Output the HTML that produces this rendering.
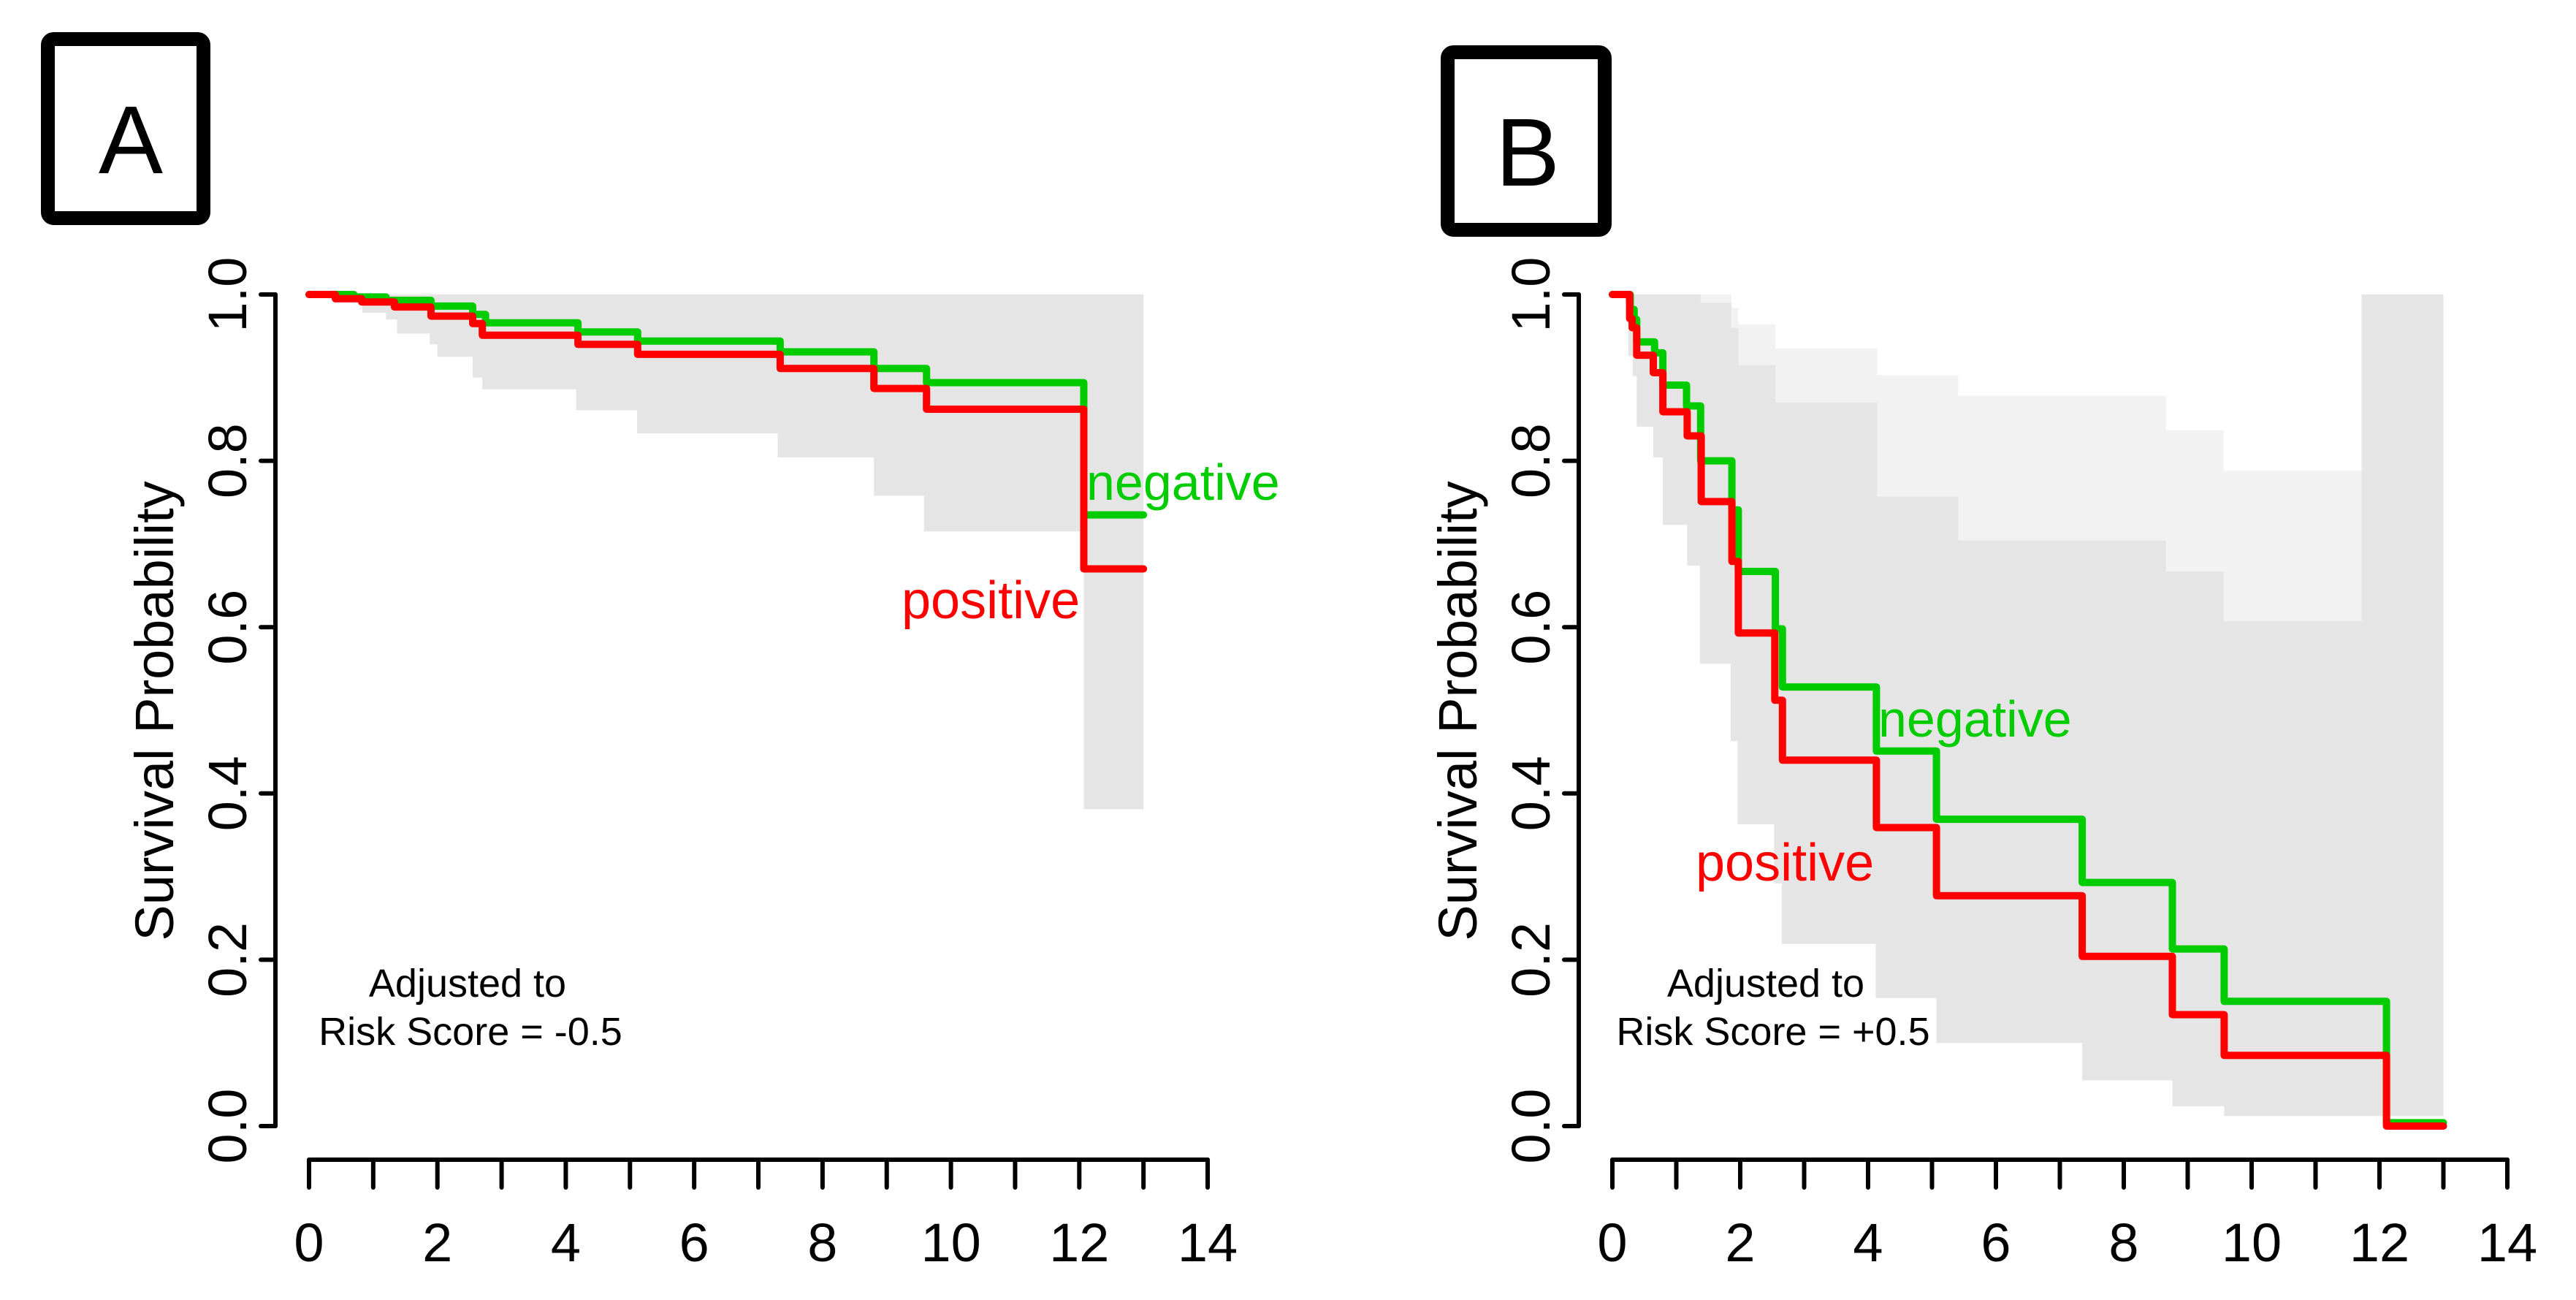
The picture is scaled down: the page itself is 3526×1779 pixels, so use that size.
<!DOCTYPE html>
<html><head><meta charset="utf-8"><style>
html,body{margin:0;padding:0;background:#fff}
svg{display:block}
text{font-family:"Liberation Sans",Arial,sans-serif}
</style></head><body>
<svg id="fig" width="3526" height="1779" viewBox="0 0 3526 1779" xmlns="http://www.w3.org/2000/svg">
<rect width="3526" height="1779" fill="#fff"/>
<g>
<rect x="65.5" y="53.5" width="213" height="245" rx="8" fill="none" stroke="#000" stroke-width="19"/>
<text x="179" y="237" font-size="132" text-anchor="middle">A</text>
</g>
<g>
<rect x="1981.5" y="71.5" width="215" height="243" rx="8" fill="none" stroke="#000" stroke-width="19"/>
<text x="2091" y="254" font-size="132" text-anchor="middle">B</text>
</g>
<g id="panelA"></g>
<g id="panelB"></g>
</svg>
<script>
// Panel A data
const aGreenTimes=[0,0.7,1.2,1.9,2.55,2.75,4.19,5.12,7.34,8.8,9.62,12.07];
const aGreenVals=[1,0.997,0.993,0.986,0.976,0.966,0.955,0.944,0.931,0.911,0.894,0.735];
const aRedTimes=[0,0.41,0.82,1.33,1.9,2.55,2.7,4.19,5.12,7.34,8.8,9.62,12.07];
const aRedVals=[1,0.995,0.991,0.985,0.974,0.965,0.951,0.940,0.928,0.911,0.887,0.862,0.670];
const aBandTopTimes=[0];
const aBandTopVals=[1];
const aBandLowTimes=[0,0.37,0.83,1.2,1.37,1.88,2.0,2.55,2.7,4.16,5.11,7.3,8.8,9.58,12.07];
const aBandLowVals=[1,0.99,0.978,0.97,0.953,0.94,0.925,0.9,0.886,0.861,0.833,0.804,0.758,0.715,0.381];
// Panel B data
const bGreenTimes=[0,0.28,0.34,0.38,0.66,0.79,1.16,1.38,1.87,1.97,2.55,2.66,4.13,5.07,7.35,8.76,9.57,12.11];
const bGreenVals=[1,0.982,0.970,0.943,0.930,0.891,0.866,0.80,0.741,0.667,0.598,0.528,0.451,0.369,0.293,0.213,0.150,0.004];
const bRedTimes=[0,0.27,0.31,0.38,0.64,0.79,1.17,1.39,1.87,1.97,2.54,2.66,4.13,5.07,7.35,8.76,9.57,12.11];
const bRedVals=[1,0.971,0.96,0.927,0.906,0.859,0.830,0.751,0.679,0.593,0.512,0.44,0.359,0.277,0.204,0.134,0.085,0.0];
const bLightTopTimes=[0.2,1.38,1.86,1.97,2.55,4.14,5.41,8.66,9.56,11.72];
const bLightTopVals=[1,1,0.984,0.964,0.935,0.903,0.878,0.837,0.788,1.0];
const bDarkTopTimes=[0.2,1.38,1.86,1.97,2.55,4.14,5.41,8.66,9.56,11.72];
const bDarkTopVals=[1,0.99,0.96,0.915,0.87,0.757,0.704,0.667,0.607,1.0];
const bLowTimes=[0.2,0.25,0.32,0.38,0.64,0.79,1.17,1.37,1.85,1.96,2.53,2.65,4.12,5.07,7.35,8.76,9.57];
const bLowVals=[0.99,0.926,0.902,0.841,0.804,0.723,0.674,0.556,0.463,0.363,0.292,0.219,0.154,0.10,0.055,0.024,0.012];
const endTime=13;
const xTicks=[0,1,2,3,4,5,6,7,8,9,10,11,12,13,14];
const xLabels=[0,2,4,6,8,10,12,14];
const yTicks=[0,0.2,0.4,0.6,0.8,1.0];
const yLabels=["0.0","0.2","0.4","0.6","0.8","1.0"];

const NS="http://www.w3.org/2000/svg";
function mk(parent,tag,attrs){const e=document.createElementNS(NS,tag);for(const k in attrs)e.setAttribute(k,attrs[k]);parent.appendChild(e);return e;}
function stepPts(times,vals,end,sx,sy){const p=[];for(let i=0;i<times.length;i++){const t2=i+1<times.length?times[i+1]:end;p.push([sx(times[i]),sy(vals[i])]);p.push([sx(t2),sy(vals[i])]);}return p;}
function ptsStr(p){return p.map(q=>q[0].toFixed(1)+","+q[1].toFixed(1)).join(" ");}

function panel(g,cfg){
  const sx=t=>cfg.x0+t*cfg.xs;
  const sy=v=>cfg.y0-v*(cfg.y0-cfg.y1);
  cfg.bands.forEach(b=>{
    const top=stepPts(b.tt,b.tv,endTime,sx,sy);
    const low=stepPts(b.lt,b.lv,endTime,sx,sy).reverse();
    const e=mk(g,'polygon',{points:ptsStr(top.concat(low)),fill:b.fill});
    
    
  });
  cfg.curves.forEach(c=>{
    const e=mk(g,'polyline',{points:ptsStr(stepPts(c.t,c.v,endTime,sx,sy)),fill:'none',stroke:c.color,'stroke-width':10,'stroke-linejoin':'round','stroke-linecap':'round'});
    
    
  });
  const ya=mk(g,'g',{});
  
  
  mk(ya,'line',{x1:cfg.ax,y1:sy(1),x2:cfg.ax,y2:sy(0),stroke:'#000','stroke-width':6,'stroke-linecap':'round'});
  yTicks.forEach((v,i)=>{
    mk(ya,'line',{x1:cfg.ax-20,y1:sy(v),x2:cfg.ax,y2:sy(v),stroke:'#000','stroke-width':6,'stroke-linecap':'round'});
    const t=mk(ya,'text',{x:0,y:0,'font-size':74,'text-anchor':'middle',transform:`translate(${cfg.ax-40},${sy(v)}) rotate(-90)`});
    t.textContent=yLabels[i];
    
    
  });
  const yt=mk(g,'text',{x:0,y:0,'font-size':74,'text-anchor':'middle',transform:`translate(${cfg.ax-140},973) rotate(-90)`});
  yt.textContent='Survival Probability';
  
  
  const xa=mk(g,'g',{});
  
  
  mk(xa,'line',{x1:sx(0),y1:1587,x2:sx(14),y2:1587,stroke:'#000','stroke-width':6,'stroke-linecap':'round'});
  xTicks.forEach(v=>{mk(xa,'line',{x1:sx(v),y1:1587,x2:sx(v),y2:1625,stroke:'#000','stroke-width':6,'stroke-linecap':'round'});});
  xLabels.forEach(v=>{
    const t=mk(xa,'text',{x:sx(v),y:1726,'font-size':74,'text-anchor':'middle'});
    t.textContent=String(v);
    
    
  });
  cfg.labels.forEach(l=>{
    const t=mk(g,'text',{x:l.x,y:l.y,'font-size':l.fs,fill:l.fill,'text-anchor':l.anchor||'start'});
    t.textContent=l.text;
    
    
  });
}

panel(document.getElementById('panelA'),{
  x0:423,xs:87.86,y0:1541,y1:403,ax:377,
  bands:[{tt:aBandTopTimes,tv:aBandTopVals,lt:aBandLowTimes,lv:aBandLowVals,fill:'#e5e5e5',name:'ci-band-a'}],
  curves:[{t:aGreenTimes,v:aGreenVals,color:'#00cc00',name:'negative-curve-a'},{t:aRedTimes,v:aRedVals,color:'#ff0000',name:'positive-curve-a'}],
  labels:[
    {x:1487,y:684,fs:70,fill:'#00cc00',text:'negative',name:'negative-label-a'},
    {x:1234,y:846,fs:72,fill:'#ff0000',text:'positive',name:'positive-label-a'},
    {x:640,y:1364,fs:54,fill:'#000',text:'Adjusted to',anchor:'middle',name:'adjust-note-line1-a'},
    {x:644,y:1430,fs:54,fill:'#000',text:'Risk Score = -0.5',anchor:'middle',name:'adjust-note-line2-a'}
  ]
});
panel(document.getElementById('panelB'),{
  x0:2207,xs:87.5,y0:1541,y1:403,ax:2161,
  bands:[
    {tt:bLightTopTimes,tv:bLightTopVals,lt:bLowTimes,lv:bLowVals,fill:'#f2f2f2',name:'ci-band-b-outer'},
    {tt:bDarkTopTimes,tv:bDarkTopVals,lt:bLowTimes,lv:bLowVals,fill:'#e5e5e5',name:'ci-band-b-inner'}
  ],
  curves:[{t:bGreenTimes,v:bGreenVals,color:'#00cc00',name:'negative-curve-b'},{t:bRedTimes,v:bRedVals,color:'#ff0000',name:'positive-curve-b'}],
  labels:[
    {x:2571,y:1008,fs:70,fill:'#00cc00',text:'negative',name:'negative-label-b'},
    {x:2321,y:1205,fs:72,fill:'#ff0000',text:'positive',name:'positive-label-b'},
    {x:2417,y:1364,fs:54,fill:'#000',text:'Adjusted to',anchor:'middle',name:'adjust-note-line1-b'},
    {x:2427,y:1430,fs:54,fill:'#000',text:'Risk Score = +0.5',anchor:'middle',name:'adjust-note-line2-b'}
  ]
});
</script>
</body></html>
